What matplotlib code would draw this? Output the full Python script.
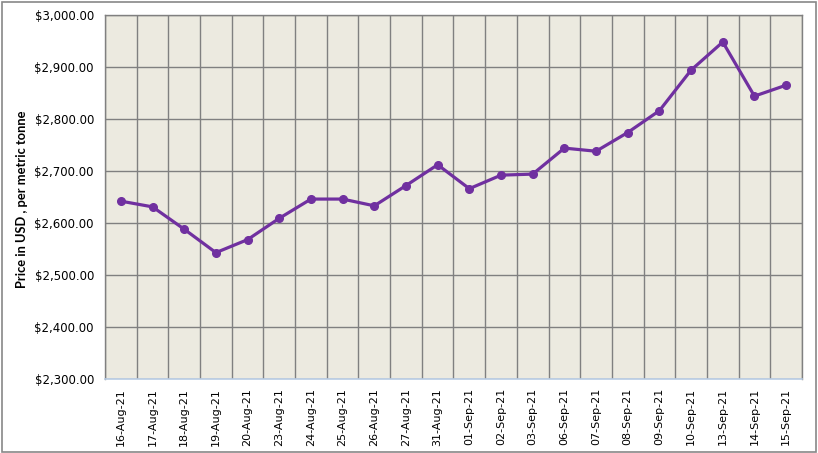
import matplotlib
matplotlib.use("Agg")
import matplotlib.pyplot as plt
from matplotlib.ticker import FuncFormatter, MultipleLocator
import numpy as np

dates = ["16-Aug-21", "17-Aug-21", "18-Aug-21", "19-Aug-21", "20-Aug-21", "23-Aug-21",
         "24-Aug-21", "25-Aug-21", "26-Aug-21", "27-Aug-21", "31-Aug-21", "01-Sep-21",
         "02-Sep-21", "03-Sep-21", "06-Sep-21", "07-Sep-21", "08-Sep-21", "09-Sep-21",
         "10-Sep-21", "13-Sep-21", "14-Sep-21", "15-Sep-21"]
prices = [2642, 2631, 2588, 2543, 2568, 2609, 2646, 2646, 2633, 2672, 2712, 2666,
          2692, 2694, 2744, 2738, 2774, 2816, 2894, 2948, 2844, 2865]

fig = plt.figure(figsize=(8.18, 4.53), dpi=100)
fig.patch.set_facecolor("white")
# outer border
fig.add_artist(plt.Rectangle((0.002, 0.003), 0.996, 0.993, transform=fig.transFigure,
                             fill=False, edgecolor="#888888", linewidth=1.2))

ax = fig.add_axes([0.1284, 0.1634, 0.8520, 0.8035])
ax.set_facecolor("#ECEAE0")
x = np.arange(len(dates))
ax.plot(x, prices, color="#7030A0", linewidth=2.3, marker="o", markersize=5.5, zorder=3)

ax.set_xlim(-0.5, len(dates) - 0.5)
ax.set_ylim(2300, 3000)
ax.yaxis.set_major_locator(MultipleLocator(100))
ax.yaxis.set_major_formatter(FuncFormatter(lambda v, p: f"${v:,.2f}"))
ax.set_xticks(x)
ax.set_xticklabels(dates, rotation=90, fontsize=8)
ax.set_xticks(np.arange(-0.5, len(dates), 1.0), minor=True)
ax.tick_params(axis="x", which="both", length=0, pad=6.5)
ax.tick_params(axis="y", length=0, labelsize=8.5, pad=8)
ax.grid(False)
ax.grid(True, which="minor", axis="x", color="#808080", linewidth=1.0)
ax.grid(True, which="major", axis="y", color="#808080", linewidth=1.0)
ax.set_axisbelow(True)
for s in ["left", "top", "right"]:
    ax.spines[s].set_color("#808080")
    ax.spines[s].set_linewidth(1.0)
ax.spines["bottom"].set_color("#B8CCE4")
ax.spines["bottom"].set_linewidth(1.2)

fig.text(22 / 818, 1 - 199 / 453, "Price in USD , per metric tonne", rotation=90,
         ha="center", va="center", fontsize=9.3, fontweight="bold", family="Lato")

fig.savefig("out.png", dpi=100)
